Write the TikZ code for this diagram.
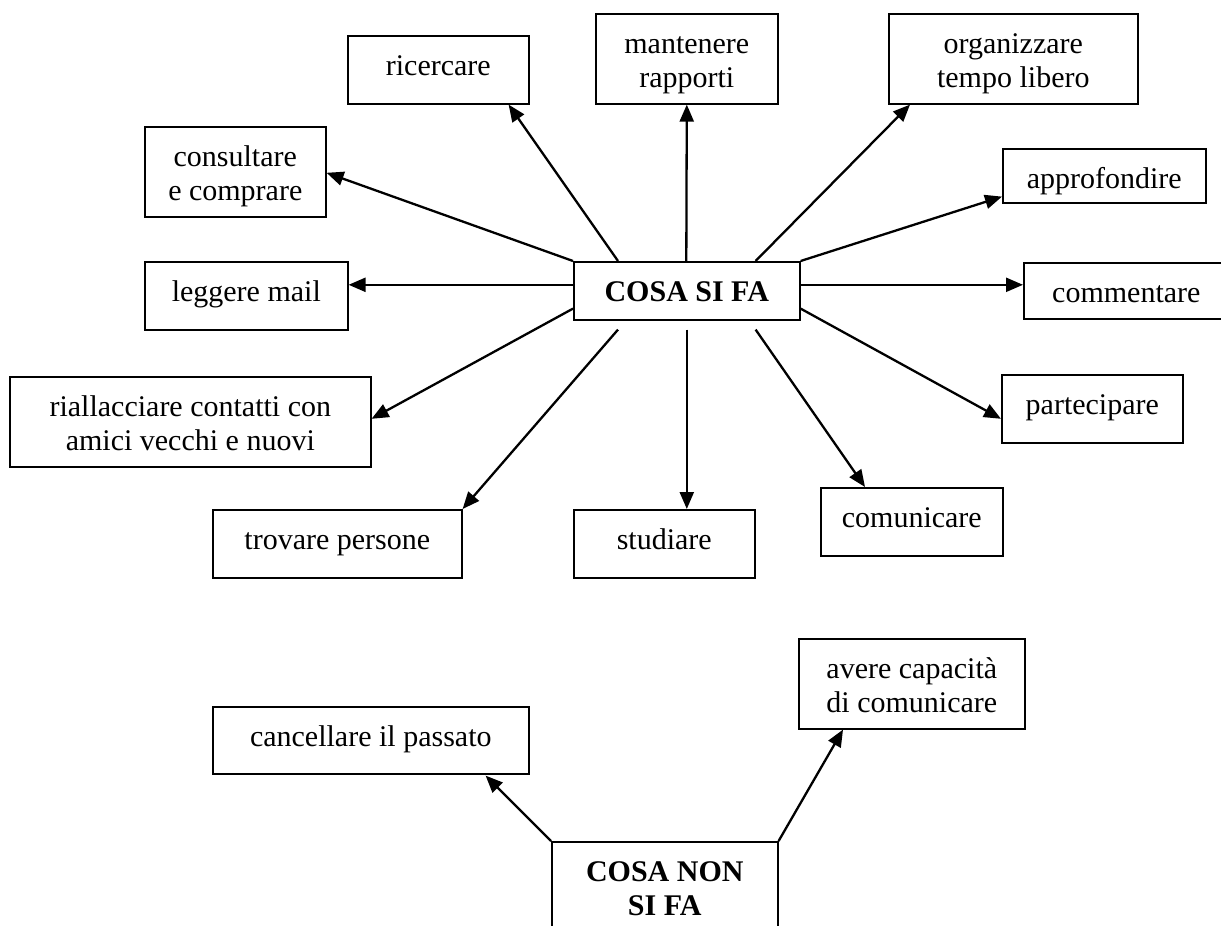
\documentclass[tikz,border=0pt]{standalone}
\usepackage{fontspec}
\setmainfont{Liberation Serif}
\usetikzlibrary{arrows.meta,calc}

% Boxes are placed by their top-left corner; the first baseline sits
% 39.5pt below the top edge, the box depth gives the rest of the height.
\tikzset{
  box/.style={draw, line width=1.6pt, inner sep=0pt, anchor=north west,
              align=flush center, text height=39.5pt,
              font=\fontsize{30}{34.5}\selectfont},
  hub/.style={box, font=\fontsize{30}{34.5}\selectfont\bfseries},
  link/.style={line width=2.3pt, -{Triangle[length=17pt,width=14pt]}},
}

\begin{document}
\begin{tikzpicture}[x=1pt,y=-1pt]
\useasboundingbox (0,0) rectangle (1221,926);

% upper map: what is done
\node[hub, text width=226pt, text depth=18.5pt] (sifa) at (573,261) {COSA SI FA};

\node[box, text width=181pt, text depth=28.5pt] (ricercare) at (347,35) {ricercare};
\node[box, text width=182pt, text depth=50.5pt] (mantenere) at (595,13) {mantenere\\rapporti};
\node[box, text width=249pt, text depth=50.5pt] (organizzare) at (888,13) {organizzare\\tempo libero};
\node[box, text width=181pt, text depth=50.5pt] (consultare) at (144,126) {consultare\\e comprare};
\node[box, text width=203pt, text depth=14.5pt] (approfondire) at (1002,148) {approfondire};
\node[box, text width=203pt, text depth=28.5pt] (leggere) at (144,261) {leggere mail};
\node[box, text width=205pt, text depth=16.5pt] (commentare) at (1023,262) {commentare};
\node[box, text width=361pt, text depth=50.5pt] (riallacciare) at (9,376) {riallacciare contatti con\\amici vecchi e nuovi};
\node[box, text width=181pt, text depth=28.5pt] (partecipare) at (1001,374) {partecipare};
\node[box, text width=249pt, text depth=28.5pt] (trovare) at (212,509) {trovare persone};
\node[box, text width=181pt, text depth=28.5pt] (studiare) at (573,509) {studiare};
\node[box, text width=182pt, text depth=28.5pt] (comunicare) at (820,487) {comunicare};

\draw[link] ($(sifa.north west)+(45,0)$) -- ($(ricercare.south east)+(-21,0)$);
\draw[link] ($(sifa.north)+(-0.5,0)$) -- (mantenere.south);
\draw[link] ($(sifa.north east)+(-45,0)$) -- ($(organizzare.south west)+(22,0)$);
\draw[link] (sifa.north east) -- ($(approfondire.south west)+(0,-7)$);
\draw[link] ($(sifa.east)+(0,-6)$) -- ($(commentare.west)+(0,-6)$);
\draw[link] ($(sifa.south east)+(0,-12)$) -- ($(partecipare.west)+(0,10)$);
\draw[link] ($(sifa.south east)+(-45,9)$) -- ($(comunicare.north west)+(45,0)$);
\draw[link] ($(sifa.south)+(0,9)$) -- (sifa.south |- studiare.north);
\draw[link] ($(sifa.south west)+(45,9)$) -- (trovare.north east);
\draw[link] ($(sifa.south west)+(0,-12)$) -- ($(riallacciare.east)+(0,-3)$);
\draw[link] ($(sifa.west)+(0,-6)$) -- ($(leggere.east)+(0,-11)$);
\draw[link] (sifa.north west) -- ($(consultare.east)+(0,1)$);

% lower map: what is not done
\node[hub, text width=226pt, text depth=70.5pt] (nonsifa) at (551,841) {COSA NON\\SI FA};
\node[box, text width=316pt, text depth=27.5pt] (cancellare) at (212,706) {cancellare il passato};
\node[box, text width=226pt, text depth=50.5pt] (avere) at (798,638) {avere capacità\\di comunicare};

\draw[link] (nonsifa.north west) -- ($(cancellare.south east)+(-44,1)$);
\draw[link] (nonsifa.north east) -- ($(avere.south west)+(45,0)$);
\end{tikzpicture}
\end{document}
